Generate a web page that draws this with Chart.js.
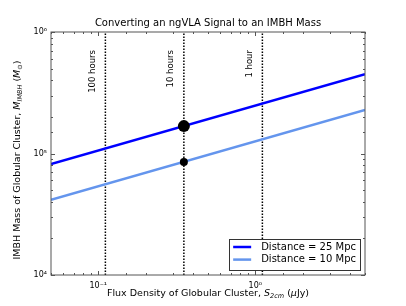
<!DOCTYPE html>
<html>
<head>
<meta charset="utf-8">
<script src="https://cdn.jsdelivr.net/npm/chart.js@4.4.0/dist/chart.umd.min.js"></script>
<style>
html, body { margin: 0; padding: 0; background: #fff; }
#wrap { width: 406px; height: 306px; }
</style>
</head>
<body>
<div id="wrap"><canvas id="massChart" width="406" height="306"></canvas></div>
<script>
// flux grid (uJy) and IMBH mass for the two distances
const fluxGrid = [0.05, 5];
const mass25 = [8.2e4, 4.5e5];
const mass10 = [4.15e4, 2.28e5];

// observing times and the flux they reach
const obsLabels = ["100 hours", "10 hours", "1 hour"];
const obsFlux = [0.111, 0.351, 1.11];

// the 10 hour detections
const markFlux = [0.351];
const markMass25 = [1.68e5];
const markMass10 = [8.5e4];

const xRange = [0.05, 5];
const yRange = [1e4, 1e6];

const FONT = "DejaVu Sans";
const DARK = "#0000ff";
const LIGHT = "#6495ed";
const FRAME = "#555555";

const sup = { "-": "\u207b", "0": "\u2070", "1": "\u00b9", "2": "\u00b2", "3": "\u00b3", "4": "\u2074", "5": "\u2075", "6": "\u2076" };
function isDecade(v) {
    const l = Math.log10(v);
    return Math.abs(l - Math.round(l)) < 1e-9;
}
function decadeLabel(v) {
    if (!isDecade(v)) return "";
    const e = String(Math.round(Math.log10(v)));
    return "10" + e.split("").map(c => sup[c]).join("");
}

function pts(xs, ys) {
    return xs.map((x, i) => ({ x: x, y: ys[i] }));
}

const datasets = [
    { data: pts(markFlux, markMass25), pointRadius: 6, pointBackgroundColor: "#000", pointBorderWidth: 0, showLine: false },
    { data: pts(markFlux, markMass10), pointRadius: 4, pointBackgroundColor: "#000", pointBorderWidth: 0, showLine: false },
    { label: "Distance = 25 Mpc", inLegend: true, data: pts(fluxGrid, mass25), showLine: true, borderColor: DARK, borderWidth: 2.5, pointRadius: 0 },
    { label: "Distance = 10 Mpc", inLegend: true, data: pts(fluxGrid, mass10), showLine: true, borderColor: LIGHT, borderWidth: 2.5, pointRadius: 0 }
];
obsFlux.forEach(f => {
    datasets.push({ data: pts([f, f], yRange), showLine: true, borderColor: "#000", borderWidth: 1.5, borderDash: [1.5, 1.5], pointRadius: 0 });
});

// text made of pieces with different fonts, centred on (x, y)
function drawRich(ctx, parts, x, y, angle) {
    ctx.save();
    ctx.translate(x, y);
    ctx.rotate(angle);
    ctx.textBaseline = "middle";
    ctx.textAlign = "left";
    let w = 0;
    parts.forEach(p => { ctx.font = p.f; p.w = ctx.measureText(p.t).width; w += p.w; });
    let cx = -w / 2;
    parts.forEach(p => {
        ctx.font = p.f;
        ctx.fillText(p.t, cx, p.dy || 0);
        cx += p.w;
    });
    ctx.restore();
}

const decorations = {
    id: "decorations",
    afterDatasetsDraw(chart) {
        const ctx = chart.ctx;
        const a = chart.chartArea;
        const xs = chart.scales.x;
        const ys = chart.scales.y;

        // frame and inward ticks
        ctx.save();
        ctx.strokeStyle = FRAME;
        ctx.lineWidth = 1;
        ctx.strokeRect(a.left, a.top, a.right - a.left, a.bottom - a.top);
        ctx.beginPath();
        xs.ticks.forEach(t => {
            const px = Math.round(xs.getPixelForValue(t.value)) + 0.5;
            const len = isDecade(t.value) ? 4 : 2;
            ctx.moveTo(px, a.bottom); ctx.lineTo(px, a.bottom - len);
            ctx.moveTo(px, a.top); ctx.lineTo(px, a.top + len);
        });
        ys.ticks.forEach(t => {
            const py = Math.round(ys.getPixelForValue(t.value)) + 0.5;
            const len = isDecade(t.value) ? 4 : 2;
            ctx.moveTo(a.left, py); ctx.lineTo(a.left + len, py);
            ctx.moveTo(a.right, py); ctx.lineTo(a.right - len, py);
        });
        ctx.stroke();
        ctx.restore();

        // observing time labels
        ctx.save();
        ctx.fillStyle = "#000";
        ctx.font = "8.5px " + FONT;
        ctx.textAlign = "right";
        ctx.textBaseline = "middle";
        obsFlux.forEach((f, i) => {
            ctx.save();
            ctx.translate(xs.getPixelForValue(f) - 13, a.top + 18);
            ctx.rotate(-Math.PI / 2);
            ctx.fillText(obsLabels[i], 0, 0);
            ctx.restore();
        });
        ctx.restore();

        // legend, lower right
        const items = chart.data.datasets.filter(d => d.inLegend);
        ctx.save();
        ctx.font = "10px " + FONT;
        const tw = Math.max(...items.map(d => ctx.measureText(d.label).width));
        const bw = 4 + 18 + 10 + tw + 4;
        const bh = 31;
        const bx = a.right - 5 - bw;
        const by = a.bottom - 5 - bh;
        ctx.fillStyle = "#fff";
        ctx.fillRect(bx, by, bw, bh);
        ctx.strokeStyle = "#333";
        ctx.lineWidth = 1;
        ctx.strokeRect(Math.round(bx) + 0.5, Math.round(by) + 0.5, Math.round(bw), Math.round(bh));
        items.forEach((d, i) => {
            const ry = by + 8 + i * 12.6;
            ctx.strokeStyle = d.borderColor;
            ctx.lineWidth = 2.5;
            ctx.beginPath();
            ctx.moveTo(bx + 4, ry);
            ctx.lineTo(bx + 22, ry);
            ctx.stroke();
            ctx.fillStyle = "#000";
            ctx.textBaseline = "middle";
            ctx.fillText(d.label, bx + 32, ry);
        });
        ctx.restore();

        // title and axis titles
        ctx.save();
        ctx.fillStyle = "#000";
        const cxm = (a.left + a.right) / 2;
        drawRich(ctx, [{ t: "Converting an ngVLA Signal to an IMBH Mass", f: "10px " + FONT }], cxm, 23.5, 0);
        const n = "9.5px " + FONT, it = "italic 9.5px " + FONT, sub = "italic 6.5px " + FONT;
        drawRich(ctx, [
            { t: "Flux Density of Globular Cluster, ", f: n },
            { t: "S", f: it },
            { t: "2cm", f: sub, dy: 2.5 },
            { t: " (", f: n },
            { t: "\u03bc", f: it },
            { t: "Jy)", f: n }
        ], cxm, 294, 0);
        drawRich(ctx, [
            { t: "IMBH Mass of Globular Cluster, ", f: n },
            { t: "M", f: it },
            { t: "IMBH", f: sub, dy: 2.5 },
            { t: " (", f: n },
            { t: "M", f: it },
            { t: "\u2299", f: "6.5px " + FONT, dy: 2.5 },
            { t: ")", f: n }
        ], 18, 160, -Math.PI / 2);
        ctx.restore();
    }
};

new Chart(document.getElementById("massChart"), {
    type: "scatter",
    data: { datasets: datasets },
    plugins: [decorations],
    options: {
        responsive: false,
        devicePixelRatio: 1,
        animation: false,
        layout: { padding: { top: 32, right: 41, left: 0, bottom: 0 } },
        plugins: { legend: { display: false }, tooltip: { enabled: false } },
        scales: {
            x: {
                type: "logarithmic",
                min: xRange[0],
                max: xRange[1],
                grid: { display: false, drawTicks: false },
                border: { display: false },
                ticks: { autoSkip: false, maxRotation: 0, color: "#000", font: { family: FONT, size: 8 }, padding: 6, callback: v => decadeLabel(v) },
                afterFit: s => { s.height = 31; }
            },
            y: {
                type: "logarithmic",
                min: yRange[0],
                max: yRange[1],
                grid: { display: false, drawTicks: false },
                border: { display: false },
                ticks: { autoSkip: false, color: "#000", font: { family: FONT, size: 8 }, padding: 4, callback: v => decadeLabel(v) },
                afterFit: s => { s.width = 51; }
            }
        }
    }
});
</script>
</body>
</html>
